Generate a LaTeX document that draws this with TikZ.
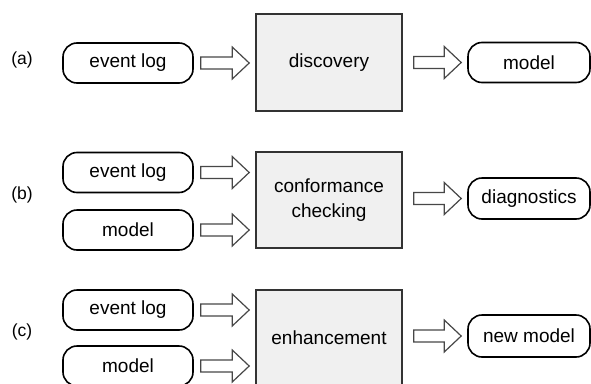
\documentclass[tikz,border=0pt]{standalone}
\usepackage{fontspec}
\setmainfont{Liberation Sans}
\usetikzlibrary{calc}
\begin{document}
\begin{tikzpicture}[x=1pt,y=-1pt,
  pill/.style={draw=black, line width=1.6pt, rounded corners=14pt, minimum width=130pt, minimum height=40pt, inner sep=0pt, font=\fontsize{19}{25}\selectfont},
  proc/.style={draw=black!80, line width=1.6pt, fill=black!6, minimum width=146pt, minimum height=96pt, inner sep=0pt, align=center, font=\fontsize{19}{25}\selectfont},
  lbl/.style={font=\fontsize{17.5}{20}\selectfont},
  blk/.style={draw=black!72, line width=1.2pt, fill=white,
    to path={let \p1=(\tikztostart), \p2=(\tikztotarget) in
      (\x1,\y1+6pt) -- (\x2-17pt,\y1+6pt) -- (\x2-17pt,\y1+16pt) -- (\x2,\y1)
      -- (\x2-17pt,\y1-16pt) -- (\x2-17pt,\y1-6pt) -- (\x1,\y1-6pt) -- cycle}}]
\useasboundingbox (0,0) rectangle (591,383);
\clip (0,0) rectangle (591,383);
% row (a)
\node[lbl] (la) at (22,60) {(a)};
\node[pill] (aev) at (128,63) {event log};
\node[proc, minimum height=97pt] (abox) at (329,62.5) {discovery};
\node[pill, minimum width=122pt] (aout) at (529,62.5) {model};
\draw[blk] ($(aev.east)+(7,0)$) to ($(abox.west|-aev.east)+(-6,0)$);
\draw[blk] ($(abox.east|-aout.west)+(11,0)$) to ($(aout.west)+(-6,0)$);
% row (b)
\node[lbl] (lb) at (22,195) {(b)};
\node[pill] (bev) at (128,172.5) {event log};
\node[pill] (bmod) at (128,230) {model};
\node[proc] (bbox) at (329,200) {conformance\\checking};
\node[pill, minimum width=122pt, minimum height=41pt] (bout) at (529,198.5) {diagnostics};
\draw[blk] ($(bev.east)+(7,0)$) to ($(bbox.west|-bev.east)+(-6,0)$);
\draw[blk] ($(bmod.east)+(7,0)$) to ($(bbox.west|-bmod.east)+(-6,0)$);
\draw[blk] ($(bbox.east|-bout.west)+(11,0)$) to ($(bout.west)+(-6,0)$);
% row (c)
\node[lbl] (lc) at (22,332) {(c)};
\node[pill] (cev) at (128,310) {event log};
\node[pill] (cmod) at (128,366) {model};
\node[proc] (cbox) at (329,338) {enhancement};
\node[pill, minimum width=122pt, minimum height=42pt] (cout) at (529,336) {new model};
\draw[blk] ($(cev.east)+(7,0)$) to ($(cbox.west|-cev.east)+(-6,0)$);
\draw[blk] ($(cmod.east)+(7,0)$) to ($(cbox.west|-cmod.east)+(-6,0)$);
\draw[blk] ($(cbox.east|-cout.west)+(11,0)$) to ($(cout.west)+(-6,0)$);
\end{tikzpicture}
\end{document}
